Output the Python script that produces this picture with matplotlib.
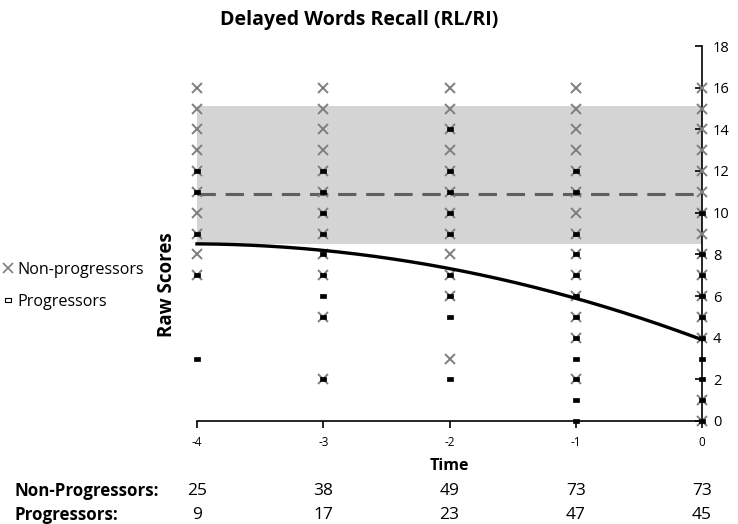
import numpy as np
import matplotlib
matplotlib.use("Agg")
import matplotlib.pyplot as plt
from matplotlib.lines import Line2D

plt.rcParams['font.family'] = ['Open Sans', 'DejaVu Sans']

# ---------------- data ----------------
times = [-4, -3, -2, -1, 0]
time_labels = ["-4", "-3", "-2", "-1", "0"]

nonprog_m4 = [16, 15, 14, 13, 12, 11, 10, 9, 8, 7]
nonprog_m3 = [16, 15, 14, 13, 12, 11, 10, 9, 8, 7, 5, 2]
nonprog_m2 = [16, 15, 14, 13, 12, 11, 10, 9, 8, 7, 6, 3]
nonprog_m1 = [16, 15, 14, 13, 12, 11, 10, 9, 8, 7, 6, 5, 4, 2]
nonprog_0 = [16, 15, 14, 13, 12, 11, 10, 9, 8, 7, 6, 5, 4, 1, 0]

prog_m4 = [12, 11, 9, 7, 3]
prog_m3 = [12, 11, 10, 9, 8, 7, 6, 5, 2]
prog_m2 = [14, 12, 11, 10, 9, 7, 6, 5, 2]
prog_m1 = [12, 11, 9, 8, 7, 6, 5, 4, 3, 2, 1, 0]
prog_0 = [10, 8, 7, 6, 5, 4, 3, 2, 1, 0]

fit_values = [8.5, 8.2, 7.3, 5.9, 3.9]   # fitted curve read at each time
band_low, band_high = 8.5, 15.1           # normal range band
ref_line = 10.9                           # dashed reference line

n_nonprog = [25, 38, 49, 73, 73]
n_prog = [9, 17, 23, 47, 45]

y_ticks = list(range(0, 19, 2))

# ---------------- figure ----------------
fig = plt.figure(figsize=(7.38, 5.24), dpi=100)
ax = fig.add_axes([197/738, 1 - 421/524, (702 - 197)/738, (421 - 46)/524])

ax.set_xlim(-4, 0)
ax.set_ylim(0, 18)

# band and reference line
ax.axhspan(band_low, band_high, color='#d4d4d4', zorder=0, lw=0)
ax.axhline(ref_line, color='#5f5f5f', lw=2.2, ls=(0, (6, 3.2)), zorder=1)

nonprog_all = [nonprog_m4, nonprog_m3, nonprog_m2, nonprog_m1, nonprog_0]
prog_all = [prog_m4, prog_m3, prog_m2, prog_m1, prog_0]

dash_marker = [(-1, -0.55), (1, -0.55), (1, 0.55), (-1, 0.55), (-1, -0.55)]

for t, vals in zip(times, nonprog_all):
    ax.plot([t] * len(vals), vals, ls='none', marker='x', ms=7.5, mew=1.4,
            color='#7f7f7f', clip_on=False, zorder=3)
for t, vals in zip(times, prog_all):
    ax.plot([t] * len(vals), vals, ls='none', marker=dash_marker, ms=5.0,
            mew=0.5, color='black', mfc='black', clip_on=False, zorder=4)

# fitted curve (quadratic through read values)
coef = np.polyfit(times, fit_values, 2)
xs = np.linspace(-4, 0, 200)
ax.plot(xs, np.polyval(coef, xs), color='black', lw=2.4, zorder=5,
        clip_on=False)

# axes styling
for s in ['left', 'top']:
    ax.spines[s].set_visible(False)
ax.spines['right'].set_position(('data', 0))
ax.spines['right'].set_linewidth(1.2)
ax.spines['bottom'].set_linewidth(1.2)
ax.yaxis.tick_right()
ax.set_yticks(y_ticks)
ax.set_yticklabels([str(v) for v in y_ticks])
ax.tick_params(axis='y', direction='in', length=5, width=1.2,
               labelsize=10.5, pad=8)
ax.set_xticks(times)
ax.set_xticklabels(time_labels)
ax.tick_params(axis='x', direction='out', length=5, width=1.2,
               labelsize=8.5, pad=6)

# texts
fig.text(359/738, 1 - 20/524, "Delayed Words Recall (RL/RI)",
         ha='center', va='center', fontsize=14, fontweight='bold')
fig.text(167/738, 1 - 285/524, "Raw Scores", rotation=90,
         ha='center', va='center', fontsize=13.5, fontweight='bold')
fig.text(449/738, 1 - 466/524, "Time", ha='center', va='center',
         fontsize=11.5, fontweight='bold')

fig.text(15/738, 1 - 491/524, "Non-Progressors:", ha='left', va='center',
         fontsize=12.2, fontweight='bold')
fig.text(15/738, 1 - 515/524, "Progressors:", ha='left', va='center',
         fontsize=12.2, fontweight='bold')
for t, a, b in zip(times, n_nonprog, n_prog):
    xf = ax.transData.transform((t, 0))[0] / fig.bbox.width
    fig.text(xf, 1 - 491/524, str(a), ha='center', va='center', fontsize=12.5)
    fig.text(xf, 1 - 515/524, str(b), ha='center', va='center', fontsize=12.5)

# legend
handles = [
    Line2D([], [], ls='none', marker='x', ms=7.5, mew=1.2, color='#7f7f7f'),
    Line2D([], [], ls='none', marker=dash_marker, ms=4.6, mew=0.8,
           color='black', mfc='white'),
]
fig.legend(handles, ["Non-progressors", "Progressors"],
           loc='center left', bbox_to_anchor=(-0.004, 1 - 286/524),
           frameon=False, fontsize=11.6, handlelength=0.6, handletextpad=0.25,
           labelspacing=1.0, borderaxespad=0)

fig.savefig("out.png", dpi=100)
